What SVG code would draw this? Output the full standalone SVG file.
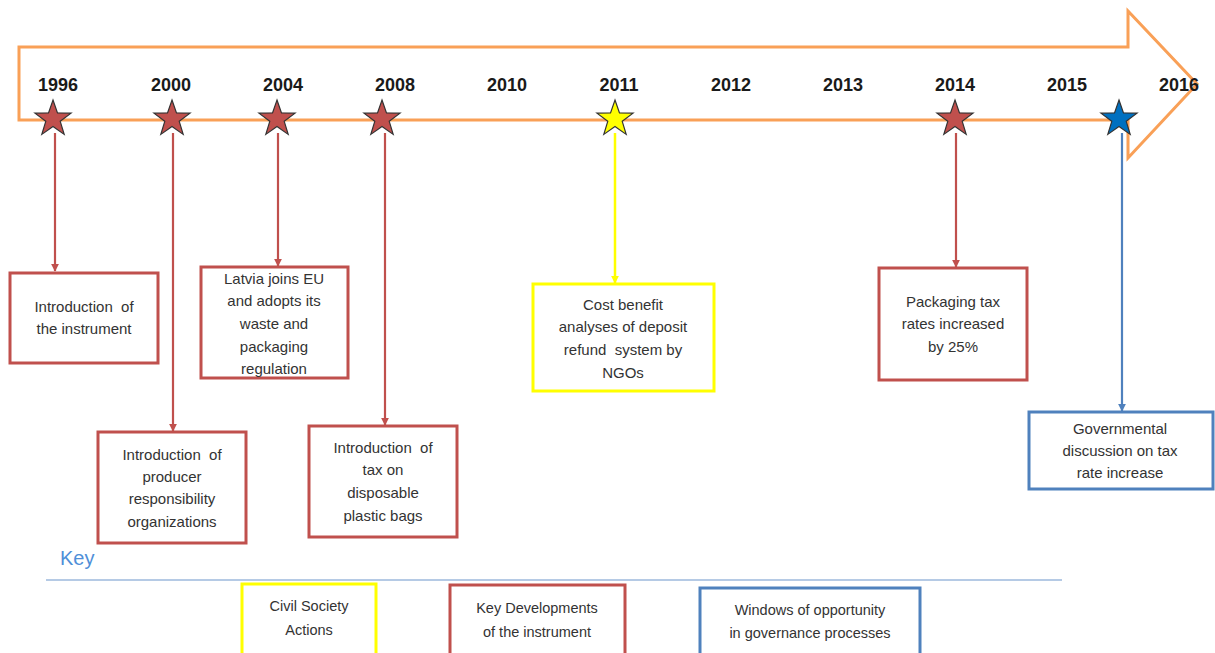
<svg xmlns="http://www.w3.org/2000/svg" width="1215" height="653" viewBox="0 0 1215 653">
<style>
.yr{font-family:"Liberation Sans",Arial,sans-serif;font-weight:bold;font-size:18px;fill:#1a1a1a;text-anchor:middle}
.t{font-family:"Liberation Sans",Arial,sans-serif;font-size:15px;fill:#333;text-anchor:middle;white-space:pre}
.lg{font-family:"Liberation Sans",Arial,sans-serif;font-size:14.5px;fill:#333;text-anchor:middle}
.rb{fill:#fff;stroke:#C0504D;stroke-width:3}
.yb{fill:#fff;stroke:#FFFF00;stroke-width:3}
.bb{fill:#fff;stroke:#4F81BD;stroke-width:3}
.rl{stroke:#C0504D;stroke-width:2.2;fill:none}
.yl{stroke:#FFFF00;stroke-width:2.5;fill:none}
.bl{stroke:#4F81BD;stroke-width:2.2;fill:none}
.star{stroke:#333;stroke-width:1.2}
</style>
<defs>
<path id="star" d="M0,-19 L4.47,-6.15 L18.07,-5.87 L7.23,2.35 L11.17,15.37 L0,7.6 L-11.17,15.37 L-7.23,2.35 L-18.07,-5.87 L-4.47,-6.15 Z"/>
<marker id="ar" viewBox="0 0 10 10" refX="9" refY="5" markerWidth="8" markerHeight="8" orient="auto" markerUnits="userSpaceOnUse"><path d="M0,0 L10,5 L0,10 Z" fill="#C0504D"/></marker>
<marker id="ay" viewBox="0 0 10 10" refX="9" refY="5" markerWidth="8" markerHeight="8" orient="auto" markerUnits="userSpaceOnUse"><path d="M0,0 L10,5 L0,10 Z" fill="#FFFF00"/></marker>
<marker id="ab" viewBox="0 0 10 10" refX="9" refY="5" markerWidth="8" markerHeight="8" orient="auto" markerUnits="userSpaceOnUse"><path d="M0,0 L10,5 L0,10 Z" fill="#4F81BD"/></marker>
</defs>
<rect width="1215" height="653" fill="#fff"/>
<g id="timeline">
<path d="M19,47 L1128,47 L1128,11 L1197,84 L1128,158 L1128,120 L19,120 Z" fill="#fff" stroke="#F9A057" stroke-width="3"/>
<text class="yr" x="58" y="91">1996</text>
<text class="yr" x="171" y="91">2000</text>
<text class="yr" x="283" y="91">2004</text>
<text class="yr" x="395" y="91">2008</text>
<text class="yr" x="507" y="91">2010</text>
<text class="yr" x="619" y="91">2011</text>
<text class="yr" x="731" y="91">2012</text>
<text class="yr" x="843" y="91">2013</text>
<text class="yr" x="955" y="91">2014</text>
<text class="yr" x="1067" y="91">2015</text>
<text class="yr" x="1179" y="91">2016</text>
</g>
<g id="connectors">
<line class="rl" x1="55" y1="133" x2="55" y2="271" marker-end="url(#ar)"/>
<line class="rl" x1="173" y1="133" x2="173" y2="431" marker-end="url(#ar)"/>
<line class="rl" x1="278" y1="133" x2="278" y2="266" marker-end="url(#ar)"/>
<line class="rl" x1="385" y1="133" x2="385" y2="425" marker-end="url(#ar)"/>
<line class="yl" x1="615" y1="133" x2="615" y2="283" marker-end="url(#ay)"/>
<line class="rl" x1="956" y1="133" x2="956" y2="267" marker-end="url(#ar)"/>
<line class="bl" x1="1122" y1="133" x2="1122" y2="411" marker-end="url(#ab)"/>
</g>
<g id="stars">
<use href="#star" x="53" y="119" fill="#C0504D" class="star"/>
<use href="#star" x="172" y="119" fill="#C0504D" class="star"/>
<use href="#star" x="277" y="119" fill="#C0504D" class="star"/>
<use href="#star" x="382" y="119" fill="#C0504D" class="star"/>
<use href="#star" x="615" y="119" fill="#FFFF00" class="star"/>
<use href="#star" x="955" y="119" fill="#C0504D" class="star"/>
<use href="#star" x="1119" y="119" fill="#0070C0" class="star"/>
</g>
<g id="n1996">
<rect class="rb" x="10" y="273" width="148" height="90"/>
<text class="t" x="84" y="312">Introduction  of</text>
<text class="t" x="84" y="334">the instrument</text>
</g>
<g id="n2000">
<rect class="rb" x="98" y="432" width="148" height="111"/>
<text class="t" x="172" y="460">Introduction  of</text>
<text class="t" x="172" y="482">producer</text>
<text class="t" x="172" y="504">responsibility</text>
<text class="t" x="172" y="527">organizations</text>
</g>
<g id="n2004">
<rect class="rb" x="201" y="267" width="147" height="111"/>
<text class="t" x="274" y="284">Latvia joins EU</text>
<text class="t" x="274" y="306">and adopts its</text>
<text class="t" x="274" y="329">waste and</text>
<text class="t" x="274" y="352">packaging</text>
<text class="t" x="274" y="374">regulation</text>
</g>
<g id="n2008">
<rect class="rb" x="309" y="426" width="148" height="111"/>
<text class="t" x="383" y="453">Introduction  of</text>
<text class="t" x="383" y="475">tax on</text>
<text class="t" x="383" y="498">disposable</text>
<text class="t" x="383" y="521">plastic bags</text>
</g>
<g id="n2011">
<rect class="yb" x="533" y="284" width="181" height="107"/>
<text class="t" x="623" y="310">Cost benefit</text>
<text class="t" x="623" y="332">analyses of deposit</text>
<text class="t" x="623" y="355">refund  system by</text>
<text class="t" x="623" y="378">NGOs</text>
</g>
<g id="n2014">
<rect class="rb" x="879" y="268" width="148" height="112"/>
<text class="t" x="953" y="307">Packaging tax</text>
<text class="t" x="953" y="329">rates increased</text>
<text class="t" x="953" y="352">by 25%</text>
</g>
<g id="n2015">
<rect class="bb" x="1029" y="412" width="184" height="77"/>
<text class="t" x="1120" y="434">Governmental</text>
<text class="t" x="1120" y="456">discussion on tax</text>
<text class="t" x="1120" y="478">rate increase</text>
</g>
<g id="key">
<text x="60" y="565" font-family="'Liberation Sans',Arial,sans-serif" font-size="20" fill="#4F8FD8">Key</text>
<line x1="46" y1="580" x2="1062" y2="580" stroke="#9DB9DD" stroke-width="1.5"/>
<rect class="yb" x="242" y="584" width="134" height="72"/>
<text class="lg" x="309" y="611">Civil Society</text>
<text class="lg" x="309" y="635">Actions</text>
<rect class="rb" x="450" y="585" width="175" height="72"/>
<text class="lg" x="537" y="613">Key Developments</text>
<text class="lg" x="537" y="637">of the instrument</text>
<rect class="bb" x="700" y="588" width="220" height="70"/>
<text class="lg" x="810" y="615">Windows of opportunity</text>
<text class="lg" x="810" y="638">in governance processes</text>
</g>
</svg>
